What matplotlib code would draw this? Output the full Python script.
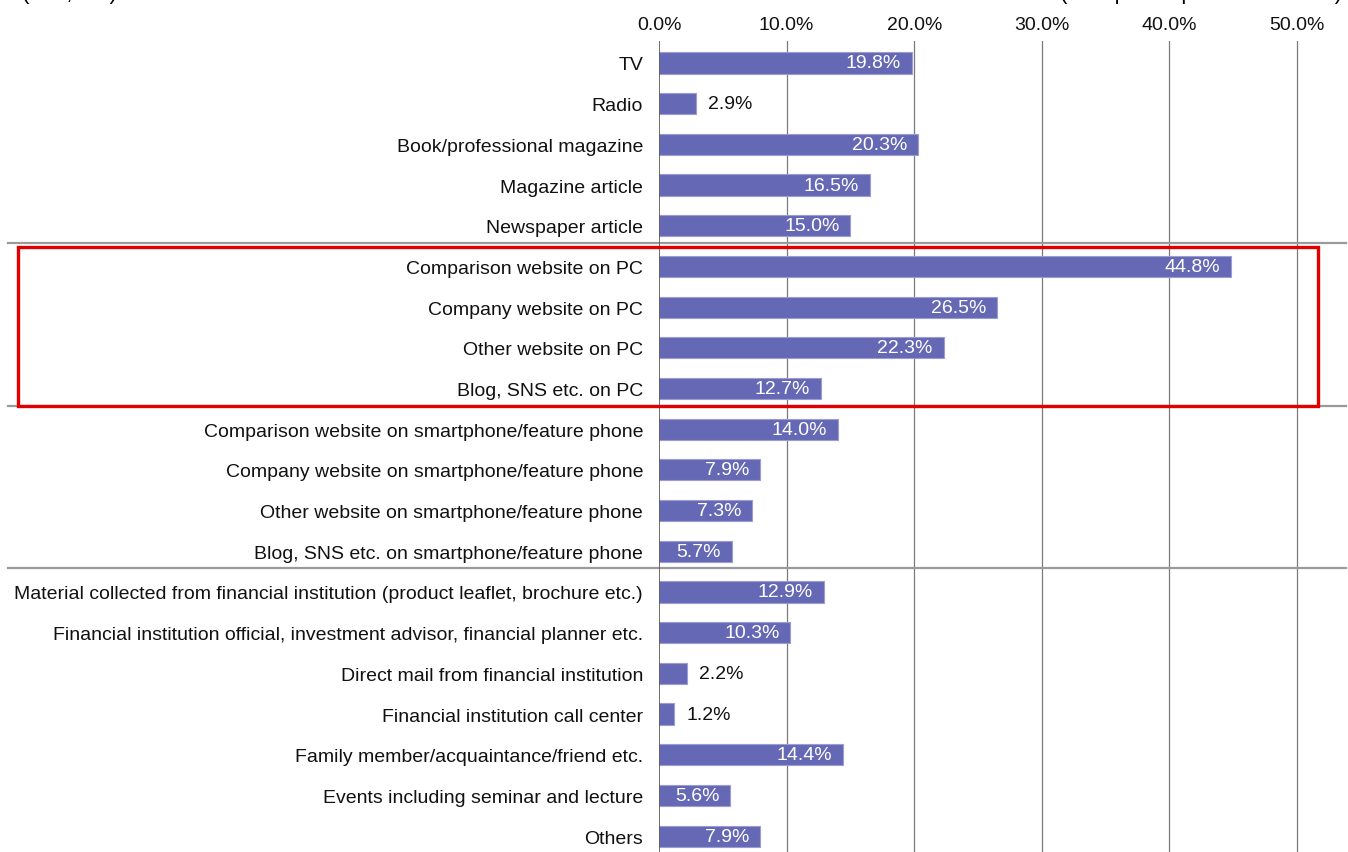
import matplotlib
matplotlib.use("Agg")
import matplotlib.pyplot as plt
from matplotlib.patches import Rectangle
from matplotlib.transforms import blended_transform_factory

plt.rcParams['font.family'] = ['Liberation Sans', 'DejaVu Sans']

categories = [
    "TV",
    "Radio",
    "Book/professional magazine",
    "Magazine article",
    "Newspaper article",
    "Comparison website on PC",
    "Company website on PC",
    "Other website on PC",
    "Blog, SNS etc. on PC",
    "Comparison website on smartphone/feature phone",
    "Company website on smartphone/feature phone",
    "Other website on smartphone/feature phone",
    "Blog, SNS etc. on smartphone/feature phone",
    "Material collected from financial institution (product leaflet, brochure etc.)",
    "Financial institution official, investment advisor, financial planner etc.",
    "Direct mail from financial institution",
    "Financial institution call center",
    "Family member/acquaintance/friend etc.",
    "Events including seminar and lecture",
    "Others",
]
values = [19.8, 2.9, 20.3, 16.5, 15.0,
          44.8, 26.5, 22.3, 12.7,
          14.0, 7.9, 7.3, 5.7,
          12.9, 10.3, 2.2, 1.2, 14.4, 5.6, 7.9]
x_ticks = [0, 10, 20, 30, 40, 50]
# group boundaries (index of first item of each new group)
group_starts = [5, 9, 13]
highlight = (5, 8)  # PC website group

bar_color = "#6568b4"
fs = 14

fig = plt.figure(figsize=(13.48, 8.53), dpi=100)
ax = fig.add_axes([659 / 1348, 0.0, (52.0 * 12.76) / 1348, 1 - 42 / 853])

y = list(range(len(categories)))
ax.barh(y, values, height=0.52, color=bar_color, edgecolor="#9a9cd2",
        linewidth=0.8, zorder=3)

ax.set_xlim(0, 52.0)
ax.set_ylim(19.39, -0.54)

ax.set_xticks(x_ticks)
ax.set_xticklabels([f"{t:.1f}%" for t in x_ticks])
ax.xaxis.tick_top()
ax.tick_params(axis="x", length=0, pad=6, labelsize=fs, colors="#111111")
ax.tick_params(axis="y", length=0, pad=11.5, labelsize=fs, colors="#111111")
ax.set_yticks(y)
ax.set_yticklabels(categories)

for t in x_ticks[1:]:
    ax.axvline(t, color="#7a7a7a", lw=0.9, zorder=1)
ax.axvline(0, color="#555555", lw=1.2, zorder=4)

for s in ax.spines.values():
    s.set_visible(False)

# value labels: white inside long bars, black beside short ones
for yi, v in zip(y, values):
    label = f"{v:.1f}%"
    if v >= 4:
        ax.text(v - 0.85, yi, label, ha="right", va="center", color="white",
                fontsize=fs, zorder=5)
    else:
        ax.text(v + 0.95, yi, label, ha="left", va="center", color="#111111",
                fontsize=fs, zorder=5)

# group separators across the whole width
trans = blended_transform_factory(fig.transFigure, ax.transData)
for g in group_starts:
    yy = g - 0.5 - 0.08
    ax.plot([8 / 1348, 1346 / 1348], [yy, yy], transform=trans,
            color="#9a9a9a", lw=1.6, clip_on=False, zorder=2)

# red box around the PC group
top = highlight[0] - 0.48
bottom = highlight[1] + 0.43
box = Rectangle((18 / 1348, top), (1318 - 18) / 1348, bottom - top,
                transform=trans, fill=False, edgecolor="#e00000", lw=2.4,
                clip_on=False, zorder=6)
ax.add_patch(box)

# header notes (partly outside the panel)
fig.text(22 / 1348, 1.001, "(n=1,000)", ha="left", va="baseline", fontsize=16)
fig.text(1342 / 1348, 1.001, "(multiple responses allowed)", ha="right",
         va="baseline", fontsize=16)

fig.savefig("out.png", dpi=100)
